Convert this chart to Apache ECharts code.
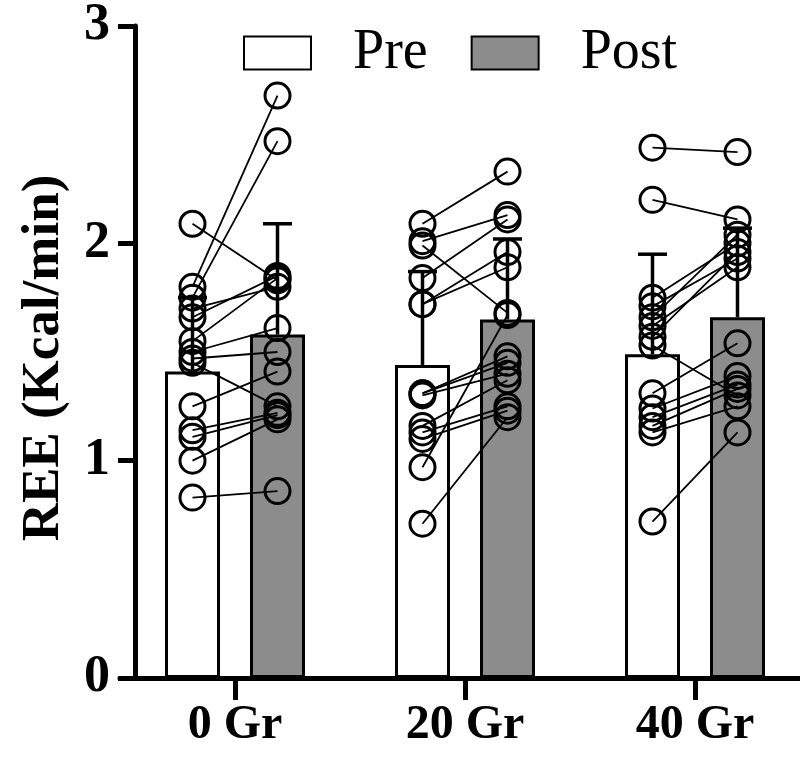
<!DOCTYPE html>
<html>
<head>
<meta charset="utf-8">
<script src="https://cdn.jsdelivr.net/npm/echarts@6/dist/echarts.min.js"></script>
<style>html,body{margin:0;padding:0;background:#fff}#c{width:800px;height:761px}</style>
</head>
<body>
<div id="c"></div>
<script>
const categories = ['0 Gr', '20 Gr', '40 Gr'];
const yTicks = [0, 1, 2, 3];
const preMean = [1.41, 1.44, 1.49];
const postMean = [1.58, 1.65, 1.66];
const preErrTop = [1.75, 1.87, 1.95];
const postErrTop = [2.09, 2.02, 2.07];

const pre0Gr  = [2.09, 1.80, 1.75, 1.70, 1.66, 1.55, 1.50, 1.47, 1.45, 1.25, 1.14, 1.11, 1.00, 0.83];
const post0Gr = [1.83, 2.68, 2.47, 1.80, 1.85, 1.84, 1.61, 1.50, 1.25, 1.41, 1.22, 1.21, 1.19, 0.86];
const pre20Gr  = [2.09, 2.01, 1.99, 1.84, 1.72, 1.72, 1.31, 1.31, 1.30, 1.16, 1.13, 1.10, 0.97, 0.71];
const post20Gr = [2.33, 2.13, 1.68, 2.11, 1.96, 1.89, 1.48, 1.45, 1.40, 1.37, 1.25, 1.23, 1.67, 1.20];
const pre40Gr  = [2.44, 2.20, 1.75, 1.71, 1.66, 1.62, 1.57, 1.53, 1.31, 1.24, 1.20, 1.16, 1.13, 0.72];
const post40Gr = [2.42, 2.11, 2.00, 1.93, 2.04, 1.89, 1.96, 1.30, 1.54, 1.39, 1.35, 1.33, 1.25, 1.13];

const preAll = [pre0Gr, pre20Gr, pre40Gr];
const postAll = [post0Gr, post20Gr, post40Gr];

const FONT = '"Liberation Serif", "Times New Roman", serif';
const gridLeft = 120, gridWidth = 680, catW = 230;
const half = 42.5 / catW;
const centers = categories.map((c, i) => i + 0.5);

const series = [
  { name: 'Pre', type: 'bar', data: centers.map((x, i) => [x - half, preMean[i]]), barWidth: 55, barGap: '-100%',
    itemStyle: { color: '#ffffff', borderColor: '#000', borderWidth: 3 }, z: 2 },
  { name: 'Post', type: 'bar', data: centers.map((x, i) => [x + half, postMean[i]]), barWidth: 55, barGap: '-100%',
    itemStyle: { color: '#8c8c8c', borderColor: '#000', borderWidth: 3 }, z: 2 }
];

const errData = [];
centers.forEach((x, i) => {
  errData.push([x - half, preMean[i], preErrTop[i]]);
  errData.push([x + half, postMean[i], postErrTop[i]]);
});
series.push({
  type: 'custom', data: errData, z: 3, silent: true,
  encode: { x: 0, y: [1, 2] },
  renderItem: function (params, api) {
    const x = api.value(0), m = api.value(1), t = api.value(2);
    const p1 = api.coord([x, m]), p2 = api.coord([x, t]);
    return { type: 'group', children: [
      { type: 'line', shape: { x1: p1[0], y1: p1[1], x2: p2[0], y2: p2[1] }, style: { stroke: '#000', lineWidth: 3.5 } },
      { type: 'line', shape: { x1: p2[0] - 14.5, y1: p2[1], x2: p2[0] + 14.5, y2: p2[1] }, style: { stroke: '#000', lineWidth: 3.5 } }
    ] };
  }
});

const scatterData = [];
centers.forEach((x, i) => {
  const xp = x - half, xq = x + half;
  preAll[i].forEach((v, k) => {
    const w = postAll[i][k];
    series.push({ type: 'line', data: [[xp, v], [xq, w]],
      showSymbol: false, silent: true, z: 4,
      lineStyle: { color: '#000', width: 1.8 } });
    scatterData.push([xp, v]);
    scatterData.push([xq, w]);
  });
});
series.push({ type: 'scatter', data: scatterData, symbol: 'circle',
  symbolSize: 25, silent: true, z: 5,
  itemStyle: { color: 'rgba(0,0,0,0)', borderColor: '#000', borderWidth: 3, opacity: 1 } });

const chart = echarts.init(document.getElementById('c'));
chart.setOption({
  animation: false,
  backgroundColor: '#fff',
  textStyle: { fontFamily: FONT },
  grid: { left: gridLeft, width: gridWidth, top: 18, bottom: 83, containLabel: false },
  legend: {
    data: ['Pre', 'Post'], left: 238, top: 20, itemWidth: 67, itemHeight: 33, itemGap: 43,
    icon: 'rect', selectedMode: false,
    textStyle: { fontFamily: FONT, fontSize: 56, color: '#000', padding: [0, 0, 0, 37] }
  },
  xAxis: [
    { type: 'value', min: 0, max: gridWidth / catW,
      splitLine: { show: false },
      axisLine: { show: true, onZero: false, lineStyle: { color: '#000', width: 5 } },
      axisTick: { show: true, customValues: centers, length: 22, lineStyle: { color: '#000', width: 5 } },
      axisLabel: { customValues: centers, formatter: v => categories[Math.round(v - 0.5)],
        fontFamily: FONT, fontSize: 48, fontWeight: 'bold', color: '#000', margin: 24 } }
  ],
  yAxis: [
    { type: 'value', min: yTicks[0], max: yTicks[yTicks.length - 1], interval: 1, offset: -15,
      name: 'REE (Kcal/min)', nameLocation: 'middle', nameGap: 64,
      nameTextStyle: { fontFamily: FONT, fontSize: 53, fontWeight: 'bold', color: '#000', padding: [0, 12, 0, 0] },
      splitLine: { show: false },
      axisLine: { show: true, lineStyle: { color: '#000', width: 5 } },
      axisTick: { show: true, length: 17, lineStyle: { color: '#000', width: 5 } },
      axisLabel: { fontFamily: FONT, fontSize: 52, fontWeight: 'bold', color: '#000', margin: 25 } }
  ],
  series: series
});
</script>
</body>
</html>
